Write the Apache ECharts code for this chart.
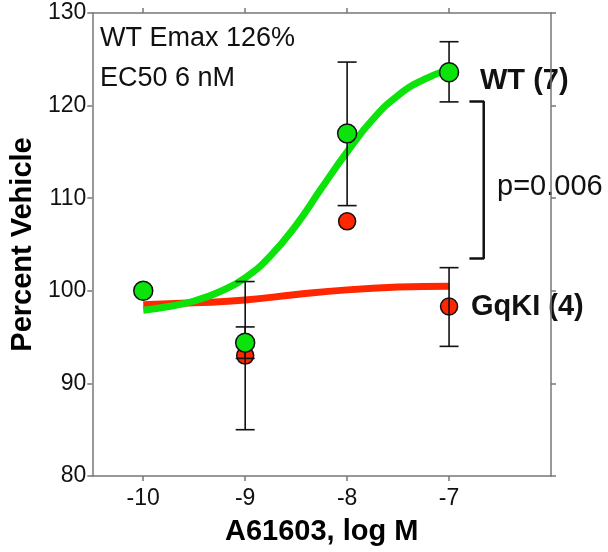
<!DOCTYPE html>
<html lang="en" style="height: 100%">
<head>
  <meta charset="utf-8">
  <title>A61603 dose response</title>
</head>
<body style="height: 100%; margin: 0; background: #fff">
  <div id="container" style="width: 608px; height: 552px"></div>
  <script type="text/javascript" src="https://cdn.jsdelivr.net/npm/echarts@6/dist/echarts.min.js"></script>
  <script type="text/javascript">
    // doses, log M
    var doses = [-10, -9, -8, -7];
    var xTicks = [-10, -9, -8, -7];

    // WT means and SEM bounds
    var wtMean = [100, 94.4, 117.0, 123.6];
    var wtLow = [null, 92.7, 109.2, 120.4];
    var wtHigh = [null, 96.1, 124.7, 126.9];

    // GqKI means and SEM bounds
    var kiMean = [100, 93.0, 107.5, 98.3];
    var kiLow = [null, 85.0, null, 94.0];
    var kiHigh = [null, 101.0, null, 102.5];

    // fitted curves
    var wtCurveX = [-10, -9.75, -9.5, -9.25, -9, -8.75, -8.5, -8.25, -8, -7.75, -7.5, -7.25, -7];
    var wtCurveY = [97.9, 98.3, 98.9, 99.9, 101.4, 103.8, 107.1, 111.1, 115.0, 118.5, 121.1, 122.8, 123.9];
    var kiCurveX = [-10, -9.5, -9, -8.5, -8, -7.5, -7];
    var kiCurveY = [98.5, 98.7, 99.0, 99.6, 100.1, 100.4, 100.5];

    // significance bracket
    var bracketX = [-6.80, -6.66, -6.66, -6.80];
    var bracketY = [120.45, 120.45, 103.5, 103.5];

    var FONT = '"Liberation Sans", Arial, Helvetica, sans-serif';
    var GREEN = '#0be30b';
    var RED = '#ff2600';
    var AXIS = '#777';

    function zip(xs, ys) {
      return xs.map(function (x, i) { return [x, ys[i]]; });
    }
    function bars(lo, hi) {
      var out = [];
      doses.forEach(function (d, i) {
        if (lo[i] != null) out.push([d, lo[i], hi[i]]);
      });
      return out;
    }
    function errorBar(params, api) {
      var x = api.value(0);
      var lo = api.coord([x, api.value(1)]);
      var hi = api.coord([x, api.value(2)]);
      var hw = 9.5;
      var st = { stroke: '#111', lineWidth: 1.6 };
      return {
        type: 'group',
        children: [
          { type: 'line', shape: { x1: lo[0], y1: lo[1], x2: hi[0], y2: hi[1] }, style: st },
          { type: 'line', shape: { x1: lo[0] - hw, y1: lo[1], x2: lo[0] + hw, y2: lo[1] }, style: st },
          { type: 'line', shape: { x1: hi[0] - hw, y1: hi[1], x2: hi[0] + hw, y2: hi[1] }, style: st }
        ]
      };
    }

    var dom = document.getElementById('container');
    var myChart = echarts.init(dom, null, { renderer: 'canvas' });

    var axisLine = { show: true, lineStyle: { color: AXIS, width: 1.5 } };
    var tickStyle = { show: true, length: 5, lineStyle: { color: AXIS, width: 1.5 } };

    var option = {
      animation: false,
      backgroundColor: '#fff',
      textStyle: { fontFamily: FONT },
      grid: { left: 87, right: 57, top: 13, bottom: 76, containLabel: false },
      xAxis: [
        {
          type: 'value', position: 'bottom', min: -10.5, max: -6,
          splitLine: { show: false },
          axisLine: axisLine,
          axisTick: Object.assign({ customValues: xTicks }, tickStyle),
          axisLabel: { customValues: xTicks, color: '#111', fontSize: 23, fontFamily: FONT, margin: 11 },
          name: 'A61603, log M', nameLocation: 'middle', nameGap: 41,
          nameTextStyle: { fontSize: 29, fontWeight: 'bold', color: '#000', fontFamily: FONT }
        },
        {
          type: 'value', position: 'top', min: -10.5, max: -6,
          splitLine: { show: false },
          axisLine: axisLine,
          axisTick: Object.assign({ customValues: xTicks }, tickStyle),
          axisLabel: { show: false }
        }
      ],
      yAxis: [
        {
          type: 'value', position: 'left', min: 80, max: 130, interval: 10,
          splitLine: { show: false },
          axisLine: axisLine,
          axisTick: tickStyle,
          axisLabel: { color: '#111', fontSize: 23, fontFamily: FONT, margin: 6 },
          name: 'Percent Vehicle', nameLocation: 'middle', nameGap: 50,
          nameTextStyle: { fontSize: 29, fontWeight: 'bold', color: '#000', fontFamily: FONT }
        },
        {
          type: 'value', position: 'right', min: 80, max: 130, interval: 10,
          splitLine: { show: false },
          axisLine: axisLine,
          axisTick: tickStyle,
          axisLabel: { show: false }
        }
      ],
      series: [
        {
          name: 'GqKI fit', type: 'line', smooth: 0.5, symbol: 'none',
          data: zip(kiCurveX, kiCurveY),
          lineStyle: { color: RED, width: 7 }, z: 2
        },
        {
          name: 'WT fit', type: 'line', smooth: 0.5, symbol: 'none',
          data: zip(wtCurveX, wtCurveY),
          lineStyle: { color: GREEN, width: 7 }, z: 3
        },
        {
          name: 'GqKI', type: 'scatter', symbolSize: 17,
          data: zip(doses, kiMean),
          itemStyle: { color: RED, borderColor: '#111', borderWidth: 1.5, opacity: 1 }, z: 4
        },
        {
          name: 'GqKI SEM', type: 'custom', renderItem: errorBar,
          data: bars(kiLow, kiHigh), z: 5
        },
        {
          name: 'WT', type: 'scatter', symbolSize: 19,
          data: zip(doses, wtMean),
          itemStyle: { color: GREEN, borderColor: '#111', borderWidth: 1.5, opacity: 1 }, z: 6
        },
        {
          name: 'WT SEM', type: 'custom', renderItem: errorBar,
          data: bars(wtLow, wtHigh), z: 5
        },
        {
          name: 'bracket', type: 'line', symbol: 'none',
          data: zip(bracketX, bracketY),
          lineStyle: { color: '#111', width: 2.5 }, z: 2
        }
      ],
      graphic: [
        { type: 'text', left: 100, top: 25, style: { text: 'WT Emax 126%', font: '27px ' + FONT, fill: '#111' } },
        { type: 'text', left: 100, top: 65, style: { text: 'EC50 6 nM', font: '27px ' + FONT, fill: '#111' } },
        { type: 'text', left: 480, top: 66, style: { text: 'WT (7)', font: 'bold 29px ' + FONT, fill: '#111' } },
        { type: 'text', left: 497, top: 172, style: { text: 'p=0.006', font: '29px ' + FONT, fill: '#111' } },
        { type: 'text', left: 471, top: 292, style: { text: 'GqKI (4)', font: 'bold 29px ' + FONT, fill: '#111' } }
      ]
    };

    myChart.setOption(option);
    window.addEventListener('resize', myChart.resize);
  </script>
</body>
</html>
